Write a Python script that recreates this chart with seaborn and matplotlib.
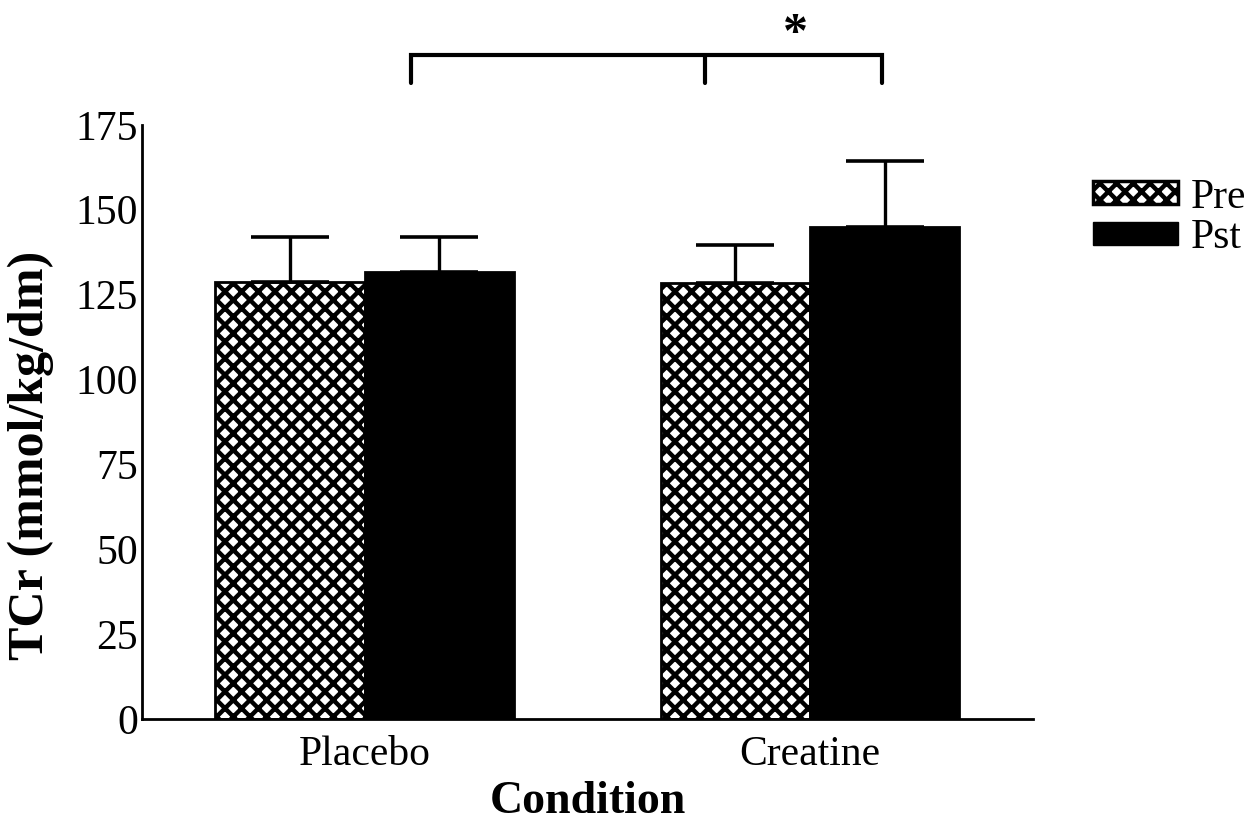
import numpy as np
import pandas as pd
import matplotlib
matplotlib.use("Agg")
import matplotlib.pyplot as plt
import seaborn as sns
from matplotlib.patches import Patch

conditions = ["Placebo", "Creatine"]
times = ["Pre", "Pst"]
pre_mean = [128.6, 128.4]
pst_mean = [131.6, 144.8]
pre_sd = [13.4, 11.3]
pst_sd = [10.4, 19.6]
y_ticks = [0, 25, 50, 75, 100, 125, 150, 175]

df = pd.DataFrame({
    "Condition": conditions * 2,
    "Time": ["Pre"] * 2 + ["Pst"] * 2,
    "TCr": pre_mean + pst_mean,
    "SD": pre_sd + pst_sd,
})

sns.set_theme(style="white", rc={
    "text.color": "black", "axes.labelcolor": "black",
    "xtick.color": "black", "ytick.color": "black",
})
plt.rcParams["font.family"] = ["Liberation Serif", "DejaVu Serif"]
plt.rcParams["hatch.linewidth"] = 3.2

fig = plt.figure(figsize=(12.52, 8.38), dpi=100)
ax = fig.add_axes([0.1134, 0.142, 0.7115, 0.709])

sns.barplot(data=df, x="Condition", y="TCr", hue="Time", order=conditions,
            hue_order=times, palette=["white", "black"], edgecolor="black",
            linewidth=2, width=0.67, errorbar=None, legend=False, ax=ax)

# hatch the "Pre" bars and add upward error bars at each bar centre
n = len(conditions)
for i, patch in enumerate(ax.patches[:2 * n]):
    t = i // n
    c = i % n
    if t == 0:
        patch.set_hatch("xx")
    sd = (pre_sd if t == 0 else pst_sd)[c]
    mean = (pre_mean if t == 0 else pst_mean)[c]
    xc = patch.get_x() + patch.get_width() / 2
    ax.errorbar([xc], [mean], yerr=[[0], [sd]], fmt="none", ecolor="black",
                elinewidth=2.4, capsize=28, capthick=2.6, zorder=1)

ax.set_ylim(0, 175)
ax.set_xlim(-0.5, 1.5)
ax.set_yticks(y_ticks)
ax.set_yticklabels([str(v) for v in y_ticks])
ax.tick_params(axis="both", length=0, labelsize=30, labelcolor="black")
ax.tick_params(axis="y", pad=3)
ax.tick_params(axis="x", pad=12)
sns.despine(ax=ax)
for s in ["left", "bottom"]:
    ax.spines[s].set_linewidth(2)
    ax.spines[s].set_color("black")

ax.set_xlabel("Condition", fontsize=33, fontweight="bold", color="black")
ax.set_ylabel("TCr (mmol/kg/dm)", fontsize=36, fontweight="bold", color="black")
ax.xaxis.label.set_va("center")
ax.yaxis.label.set_va("center")
ax.xaxis.set_label_coords(0.5006, -0.140)
ax.yaxis.set_label_coords(-0.1246, 0.443)

# significance bracket above the chart
br_y, br_leg = 195.6, 187.4
br_x = [0.104, 0.764, 1.162]
ax.plot([br_x[0], br_x[0], br_x[2], br_x[2]], [br_leg, br_y, br_y, br_leg],
        color="black", lw=3, clip_on=False, solid_joinstyle="miter")
ax.plot([br_x[1], br_x[1]], [br_y, br_leg], color="black", lw=3, clip_on=False)
ax.text(0.966, 201.5, "*", ha="center", va="center", fontsize=36,
        fontweight="bold", color="black", clip_on=False)

handles = [Patch(facecolor="white", edgecolor="black", hatch="xx", linewidth=2.5),
           Patch(facecolor="black", edgecolor="black")]
leg = ax.legend(handles, times, loc="upper left",
                bbox_to_anchor=(1093 / 1252, 1 - 178 / 838), bbox_transform=fig.transFigure,
                frameon=False, fontsize=30, handlelength=2.04, handleheight=0.46,
                handletextpad=0.3, labelspacing=0.05, borderaxespad=0, borderpad=0)
for txt in leg.get_texts():
    txt.set_color("black")

fig.savefig("out.png", dpi=100)
